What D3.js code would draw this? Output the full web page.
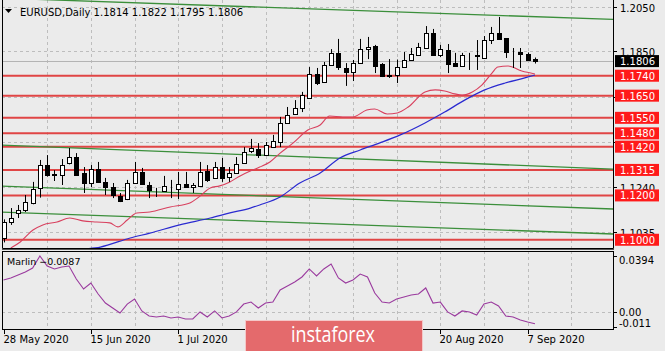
<!DOCTYPE html>
<html>
<head>
<meta charset="utf-8">
<script src="https://cdn.jsdelivr.net/npm/d3@7"></script>
<style>
  html, body { margin: 0; padding: 0; background: #ebebeb; }
  svg { display: block; font-family: "DejaVu Sans", Tahoma, sans-serif; }
</style>
</head>
<body>
<div id="chart"></div>
<script>
// EURUSD daily bars, 28 May 2020 .. 8 Sep 2020
var dates = [
  "2020-05-28","2020-05-29",
  "2020-06-01","2020-06-02","2020-06-03","2020-06-04","2020-06-05","2020-06-08","2020-06-09","2020-06-10","2020-06-11","2020-06-12",
  "2020-06-15","2020-06-16","2020-06-17","2020-06-18","2020-06-19","2020-06-22","2020-06-23","2020-06-24","2020-06-25","2020-06-26",
  "2020-06-29","2020-06-30",
  "2020-07-01","2020-07-02","2020-07-03","2020-07-06","2020-07-07","2020-07-08","2020-07-09","2020-07-10","2020-07-13","2020-07-14",
  "2020-07-15","2020-07-16","2020-07-17","2020-07-20","2020-07-21","2020-07-22","2020-07-23","2020-07-24","2020-07-27","2020-07-28",
  "2020-07-29","2020-07-30","2020-07-31",
  "2020-08-03","2020-08-04","2020-08-05","2020-08-06","2020-08-07","2020-08-10","2020-08-11","2020-08-12","2020-08-13","2020-08-14",
  "2020-08-17","2020-08-18","2020-08-19","2020-08-20","2020-08-21","2020-08-24","2020-08-25","2020-08-26","2020-08-27","2020-08-28",
  "2020-08-31",
  "2020-09-01","2020-09-02","2020-09-03","2020-09-04","2020-09-07","2020-09-08"
];
var open = [
  1.1008,1.1078,1.1121,1.1134,1.1166,1.1233,1.1337,1.1291,1.1292,1.1346,
  1.1373,1.1301,1.1256,1.1320,1.1261,1.1238,1.1197,1.1184,1.1256,1.1306,
  1.1247,1.1218,1.1220,1.1238,1.1229,1.1252,1.1238,1.1243,1.1310,1.1279,
  1.1328,1.1283,1.1301,1.1346,1.1400,1.1409,1.1382,1.1418,1.1441,1.1527,
  1.1567,1.1594,1.1640,1.1748,1.1712,1.1788,1.1842,1.1775,1.1757,1.1797,
  1.1861,1.1874,1.1793,1.1741,1.1743,1.1779,1.1811,1.1833,1.1865,1.1933,
  1.1833,1.1856,1.1797,1.1784,1.1826,1.1833,1.1820,1.1901,1.1933,1.1910,
  1.1849,1.1847,1.1840,1.1814
];
var high = [
  1.1092,1.1143,1.1157,1.1202,1.1261,1.1360,1.1382,1.1314,1.1364,1.1414,
  1.1391,1.1328,1.1337,1.1351,1.1279,1.1256,1.1211,1.1270,1.1351,1.1324,
  1.1261,1.1234,1.1288,1.1270,1.1306,1.1306,1.1256,1.1351,1.1337,1.1351,
  1.1369,1.1328,1.1373,1.1418,1.1455,1.1436,1.1441,1.1473,1.1554,1.1599,
  1.1630,1.1667,1.1779,1.1775,1.1802,1.1860,1.1906,1.1797,1.1811,1.1906,
  1.1915,1.1879,1.1797,1.1815,1.1813,1.1847,1.1865,1.1888,1.1964,1.1951,
  1.1879,1.1883,1.1843,1.1843,1.1843,1.1901,1.1919,1.1960,1.2005,1.1910,
  1.1865,1.1865,1.1845,1.1822
];
var low = [
  1.0988,1.1067,1.1098,1.1125,1.1160,1.1190,1.1285,1.1265,1.1247,1.1340,
  1.1292,1.1211,1.1238,1.1256,1.1202,1.1188,1.1170,1.1179,1.1256,1.1252,
  1.1188,1.1193,1.1216,1.1188,1.1184,1.1238,1.1211,1.1243,1.1261,1.1279,
  1.1261,1.1261,1.1301,1.1342,1.1391,1.1369,1.1382,1.1418,1.1418,1.1527,
  1.1563,1.1576,1.1640,1.1698,1.1712,1.1788,1.1766,1.1694,1.1716,1.1797,
  1.1815,1.1752,1.1734,1.1730,1.1707,1.1779,1.1811,1.1833,1.1865,1.1833,
  1.1824,1.1752,1.1784,1.1784,1.1766,1.1766,1.1820,1.1883,1.1906,1.1820,
  1.1775,1.1775,1.1809,1.1795
];
var close = [
  1.1080,1.1098,1.1134,1.1170,1.1229,1.1337,1.1292,1.1296,1.1337,1.1373,
  1.1292,1.1256,1.1319,1.1261,1.1238,1.1202,1.1175,1.1256,1.1306,1.1252,
  1.1224,1.1222,1.1243,1.1236,1.1252,1.1238,1.1247,1.1306,1.1270,1.1328,
  1.1279,1.1301,1.1342,1.1396,1.1414,1.1382,1.1427,1.1445,1.1527,1.1563,
  1.1594,1.1653,1.1748,1.1707,1.1788,1.1842,1.1779,1.1757,1.1797,1.1861,
  1.1869,1.1784,1.1739,1.1739,1.1779,1.1811,1.1838,1.1869,1.1933,1.1833,
  1.1860,1.1793,1.1784,1.1833,1.1824,1.1829,1.1901,1.1933,1.1906,1.1847,
  1.1845,1.1838,1.1812,1.1806
];

// moving averages as [bar, price]
var maRed = [
  [1.0,1.0963],[2.3,1.0990],[4.05,1.1044],[5.4,1.1067],[7.35,1.1080],[9.1,1.1098],[10.9,1.1085],
  [12.8,1.1080],[14.6,1.1076],[15.7,1.1058],[17.0,1.1089],[18.3,1.1121],[20.1,1.1125],[22.9,1.1148],
  [25.6,1.1166],[27.0,1.1197],[28.4,1.1234],[29.7,1.1243],[31.1,1.1261],[32.5,1.1288],[33.9,1.1310],
  [35.2,1.1328],[36.6,1.1351],[38.0,1.1391],[39.8,1.1437],[41.8,1.1495],[43.5,1.1518],[44.8,1.1558],
  [46.6,1.1554],[48.0,1.1554],[49.9,1.1585],[51.0,1.1590],[52.7,1.1567],[54.1,1.1572],[55.6,1.1599],
  [57.9,1.1667],[59.3,1.1676],[60.6,1.1671],[62.0,1.1658],[63.0,1.1653],[64.4,1.1667],[65.7,1.1698],
  [67.1,1.1752],[67.9,1.1779],[69.3,1.1784],[71.2,1.1761],[73.0,1.1748]
];
var maBlue = [
  [9.0,1.0945],[10.2,1.0954],[13.3,1.0967],[17.4,1.1008],[20.1,1.1030],[24.2,1.1067],[28.4,1.1098],
  [31.1,1.1121],[33.9,1.1143],[35.2,1.1157],[38.0,1.1193],[40.7,1.1256],[43.5,1.1301],[46.2,1.1369],
  [49.0,1.1405],[51.7,1.1437],[54.5,1.1473],[57.9,1.1527],[60.6,1.1576],[63.4,1.1631],[66.1,1.1676],
  [68.9,1.1707],[71.6,1.1730],[73.0,1.1743]
];

// Marlin oscillator, one value per bar
var marlin = [
  0.0224,0.0238,0.0259,0.0280,0.0309,0.0394,0.0323,0.0302,0.0316,0.0323,
  0.0231,0.0160,0.0202,0.0124,0.0060,0.0025,-0.0011,0.0053,0.0089,0.0004,
  -0.0032,-0.0039,-0.0032,-0.0046,-0.0039,-0.0053,-0.0053,-0.0003,-0.0039,0.0004,
  -0.0046,-0.0032,-0.0003,0.0053,0.0067,0.0025,0.0060,0.0067,0.0153,0.0181,
  0.0209,0.0245,0.0302,0.0252,0.0302,0.0337,0.0238,0.0202,0.0224,0.0266,
  0.0245,0.0131,0.0067,0.0060,0.0089,0.0103,0.0117,0.0124,0.0167,0.0060,
  0.0067,-0.0003,-0.0032,0.0004,-0.0003,-0.0025,0.0053,0.0067,0.0039,-0.0032,
  -0.0039,-0.0060,-0.0075,-0.0087
];

// horizontal levels and green channel lines [bar, price]
var levels = [1.1740, 1.1650, 1.1550, 1.1480, 1.1420, 1.1315, 1.1200, 1.1000];
var trendLines = [
  [[33.86, 1.2051], [83.7, 1.1994]],
  [[-0.48, 1.14275], [83.7, 1.1319]],
  [[-0.48, 1.12425], [83.7, 1.11387]],
  [[-0.48, 1.11252], [83.7, 1.1026]]
];
// grid levels; only some of them get a label, the rest sit under the level boxes
var priceTicks = [1.2050, 1.1850, 1.1645, 1.1440, 1.1240, 1.1035];
var priceTickLabels = ["1.2050", "1.1850", "", "", "1.1240", "1.1035"];
var marlinTicks = [0.0394, 0.00, -0.011];
var marlinTickLabels = ["0.0394", "0.00", "-0.011"];
// date ticks every 12 bars; the two under the watermark are not readable
var dateTickBars = [0, 12, 24, 36, 48, 60, 72];
var dateTickShown = [true, true, true, false, false, true, true];
var gridBars = [6, 12, 18, 24, 30, 36, 42, 48, 54, 60, 66, 72, 78];
var lastPrice = 1.1806;

var W = 665, H = 351;
var left = 2, right = 613;
var mainTop = 0, mainBottom = 248;
var indTop = 251, indBottom = 329;

var svg = d3.select("#chart").append("svg").attr("width", W).attr("height", H);
svg.append("rect").attr("width", W).attr("height", H).attr("fill", "#ebebeb");

var x = d3.scaleLinear().domain([0, 73]).range([3.5, 3.5 + 73 * 7.28]);
var y = d3.scaleLinear().domain([1.1035, 1.2050]).range([232, 7]);
var yi = d3.scaleLinear().domain([-0.011, 0.0394]).range([327, 256]);
var parse = d3.timeParse("%Y-%m-%d");
var fmtDate = d3.timeFormat("%-d %b %Y");

var defs = svg.append("defs");
defs.append("clipPath").attr("id", "clipMain").append("rect")
  .attr("x", left).attr("y", mainTop).attr("width", right - left).attr("height", mainBottom - mainTop);
defs.append("clipPath").attr("id", "clipInd").append("rect")
  .attr("x", left).attr("y", indTop).attr("width", right - left).attr("height", indBottom - indTop);

var main = svg.append("g").attr("clip-path", "url(#clipMain)");
var ind = svg.append("g").attr("clip-path", "url(#clipInd)");

// grid
gridBars.forEach(function (b) {
  var gx = Math.round(x(b)) + 0.5;
  [main, ind].forEach(function (g, k) {
    g.append("line").attr("x1", gx).attr("x2", gx)
      .attr("y1", k ? indTop : mainTop).attr("y2", k ? indBottom : mainBottom)
      .attr("stroke", "#bdbdbd").attr("stroke-dasharray", "3,3");
  });
});
priceTicks.forEach(function (p) {
  var gy = Math.round(y(p)) + 0.5;
  main.append("line").attr("x1", left).attr("x2", right).attr("y1", gy).attr("y2", gy)
    .attr("stroke", "#bdbdbd").attr("stroke-dasharray", "3,3");
});
ind.append("line").attr("x1", left).attr("x2", right)
  .attr("y1", Math.round(yi(0)) + 0.5).attr("y2", Math.round(yi(0)) + 0.5)
  .attr("stroke", "#bdbdbd").attr("stroke-dasharray", "3,3");

// red horizontal levels
levels.forEach(function (p) {
  main.append("line").attr("x1", left).attr("x2", right).attr("y1", y(p)).attr("y2", y(p))
    .attr("stroke", "#e04545").attr("stroke-width", 2);
});

// green channel lines
trendLines.forEach(function (t) {
  var slope = (t[1][1] - t[0][1]) / (t[1][0] - t[0][0]);
  var b0 = -1, b1 = 84;
  main.append("line")
    .attr("x1", x(b0)).attr("y1", y(t[0][1] + slope * (b0 - t[0][0])))
    .attr("x2", x(b1)).attr("y2", y(t[0][1] + slope * (b1 - t[0][0])))
    .attr("stroke", "#3b8f3b").attr("stroke-width", 1.3);
});

// bid line
main.append("line").attr("x1", left).attr("x2", right)
  .attr("y1", Math.round(y(lastPrice)) + 0.5).attr("y2", Math.round(y(lastPrice)) + 0.5)
  .attr("stroke", "#b4b4b4");

// moving averages
var maLine = d3.line().x(function (d) { return x(d[0]); }).y(function (d) { return y(d[1]); })
  .curve(d3.curveMonotoneX);
main.append("path").attr("d", maLine(maBlue))
  .attr("fill", "none").attr("stroke", "#2a2ad0").attr("stroke-width", 1.2);
main.append("path").attr("d", maLine(maRed))
  .attr("fill", "none").attr("stroke", "#d8405e").attr("stroke-width", 1.1);

// candles
var bars = d3.range(dates.length);
var candle = main.selectAll(".candle").data(bars).enter().append("g").attr("class", "candle");
candle.append("line")
  .attr("x1", function (i) { return Math.round(x(i)) + 0.5; })
  .attr("x2", function (i) { return Math.round(x(i)) + 0.5; })
  .attr("y1", function (i) { return y(high[i]); })
  .attr("y2", function (i) { return y(low[i]); })
  .attr("stroke", "#000");
candle.append("rect")
  .attr("x", function (i) { return Math.round(x(i)) - 1.5; })
  .attr("width", 4)
  .attr("y", function (i) { return Math.round(y(Math.max(open[i], close[i]))) + 0.5; })
  .attr("height", function (i) {
    return Math.max(0, Math.round(y(Math.min(open[i], close[i]))) - Math.round(y(Math.max(open[i], close[i]))));
  })
  .attr("fill", function (i) { return close[i] >= open[i] ? "#fff" : "#000"; })
  .attr("stroke", "#000");

// Marlin line
var mLine = d3.line().x(function (d, i) { return x(i); }).y(function (d) { return yi(d); });
ind.append("path").attr("d", mLine(marlin))
  .attr("fill", "none").attr("stroke", "#9a3a9e").attr("stroke-width", 1.1);

// frames
svg.append("path")
  .attr("d", "M" + (left + 0.5) + "," + mainTop + "V" + (mainBottom + 0.5) + "H" + (right + 0.5) + "V" + mainTop)
  .attr("fill", "none").attr("stroke", "#000");
svg.append("rect").attr("x", left + 0.5).attr("y", indTop + 0.5)
  .attr("width", right - left).attr("height", indBottom - indTop)
  .attr("fill", "none").attr("stroke", "#000");
svg.append("line").attr("x1", left).attr("x2", right + 1).attr("y1", mainBottom + 1.5).attr("y2", mainBottom + 1.5)
  .attr("stroke", "#555");

// right price axis
priceTicks.forEach(function (p, k) {
  var ty = Math.round(y(p)) + 0.5;
  svg.append("line").attr("x1", right).attr("x2", right + 4).attr("y1", ty).attr("y2", ty).attr("stroke", "#000");
  if (priceTickLabels[k]) {
    svg.append("text").attr("x", 620).attr("y", ty + 4).attr("font-size", 10).attr("fill", "#000")
      .text(priceTickLabels[k]);
  }
});
levels.forEach(function (p) {
  var ty = y(p);
  svg.append("rect").attr("x", 615).attr("y", ty - 6).attr("width", 44).attr("height", 12).attr("fill", "#ff1a1a");
  svg.append("text").attr("x", 620).attr("y", ty + 4).attr("font-size", 10).attr("fill", "#fff")
    .text(d3.format(".4f")(p));
});
svg.append("rect").attr("x", 615).attr("y", y(lastPrice) - 6).attr("width", 44).attr("height", 12).attr("fill", "#000");
svg.append("text").attr("x", 620).attr("y", y(lastPrice) + 4).attr("font-size", 10).attr("fill", "#fff")
  .text(d3.format(".4f")(lastPrice));

// indicator axis
marlinTicks.forEach(function (v, k) {
  var ty = k === 0 ? 260 : (k === 1 ? 312 : 323);
  svg.append("line").attr("x1", right).attr("x2", right + 4)
    .attr("y1", Math.round(yi(v)) + 0.5).attr("y2", Math.round(yi(v)) + 0.5).attr("stroke", "#000");
  svg.append("text").attr("x", 619).attr("y", ty + 4).attr("font-size", 10).attr("fill", "#000")
    .text(marlinTickLabels[k]);
});

// date axis
dateTickBars.forEach(function (b, k) {
  var tx = Math.round(x(b)) + 0.5;
  svg.append("line").attr("x1", tx).attr("x2", tx).attr("y1", indBottom + 1).attr("y2", indBottom + 5).attr("stroke", "#000");
  if (dateTickShown[k]) {
    svg.append("text").attr("x", tx - 1).attr("y", 343).attr("font-size", 10).attr("fill", "#000")
      .text(fmtDate(parse(dates[b])));
  }
});

// header texts
svg.append("path").attr("d", "M5,9H12L8.5,13Z").attr("fill", "#000");
svg.append("text").attr("x", 20).attr("y", 16).attr("font-size", 10).attr("fill", "#000")
  .text("EURUSD,Daily  " + [open[73], high[73], low[73], close[73]].map(d3.format(".4f")).join(" "));
svg.append("text").attr("x", 7).attr("y", 265).attr("font-size", 9.5).attr("fill", "#000")
  .text("Marlin " + d3.format(".4f")(marlin[73]));

// watermark
svg.append("rect").attr("x", 245.5).attr("y", 320.5).attr("width", 177).attr("height", 40)
  .attr("fill", "#e46a6c").attr("stroke", "#f4c8c8");
svg.append("text").attr("x", 333).attr("y", 342).attr("text-anchor", "middle")
  .attr("font-family", "'Open Sans', sans-serif").attr("font-size", 21).attr("fill", "#fff")
  .attr("textLength", 84).attr("lengthAdjust", "spacingAndGlyphs")
  .text("instaforex");
</script>
</body>
</html>
